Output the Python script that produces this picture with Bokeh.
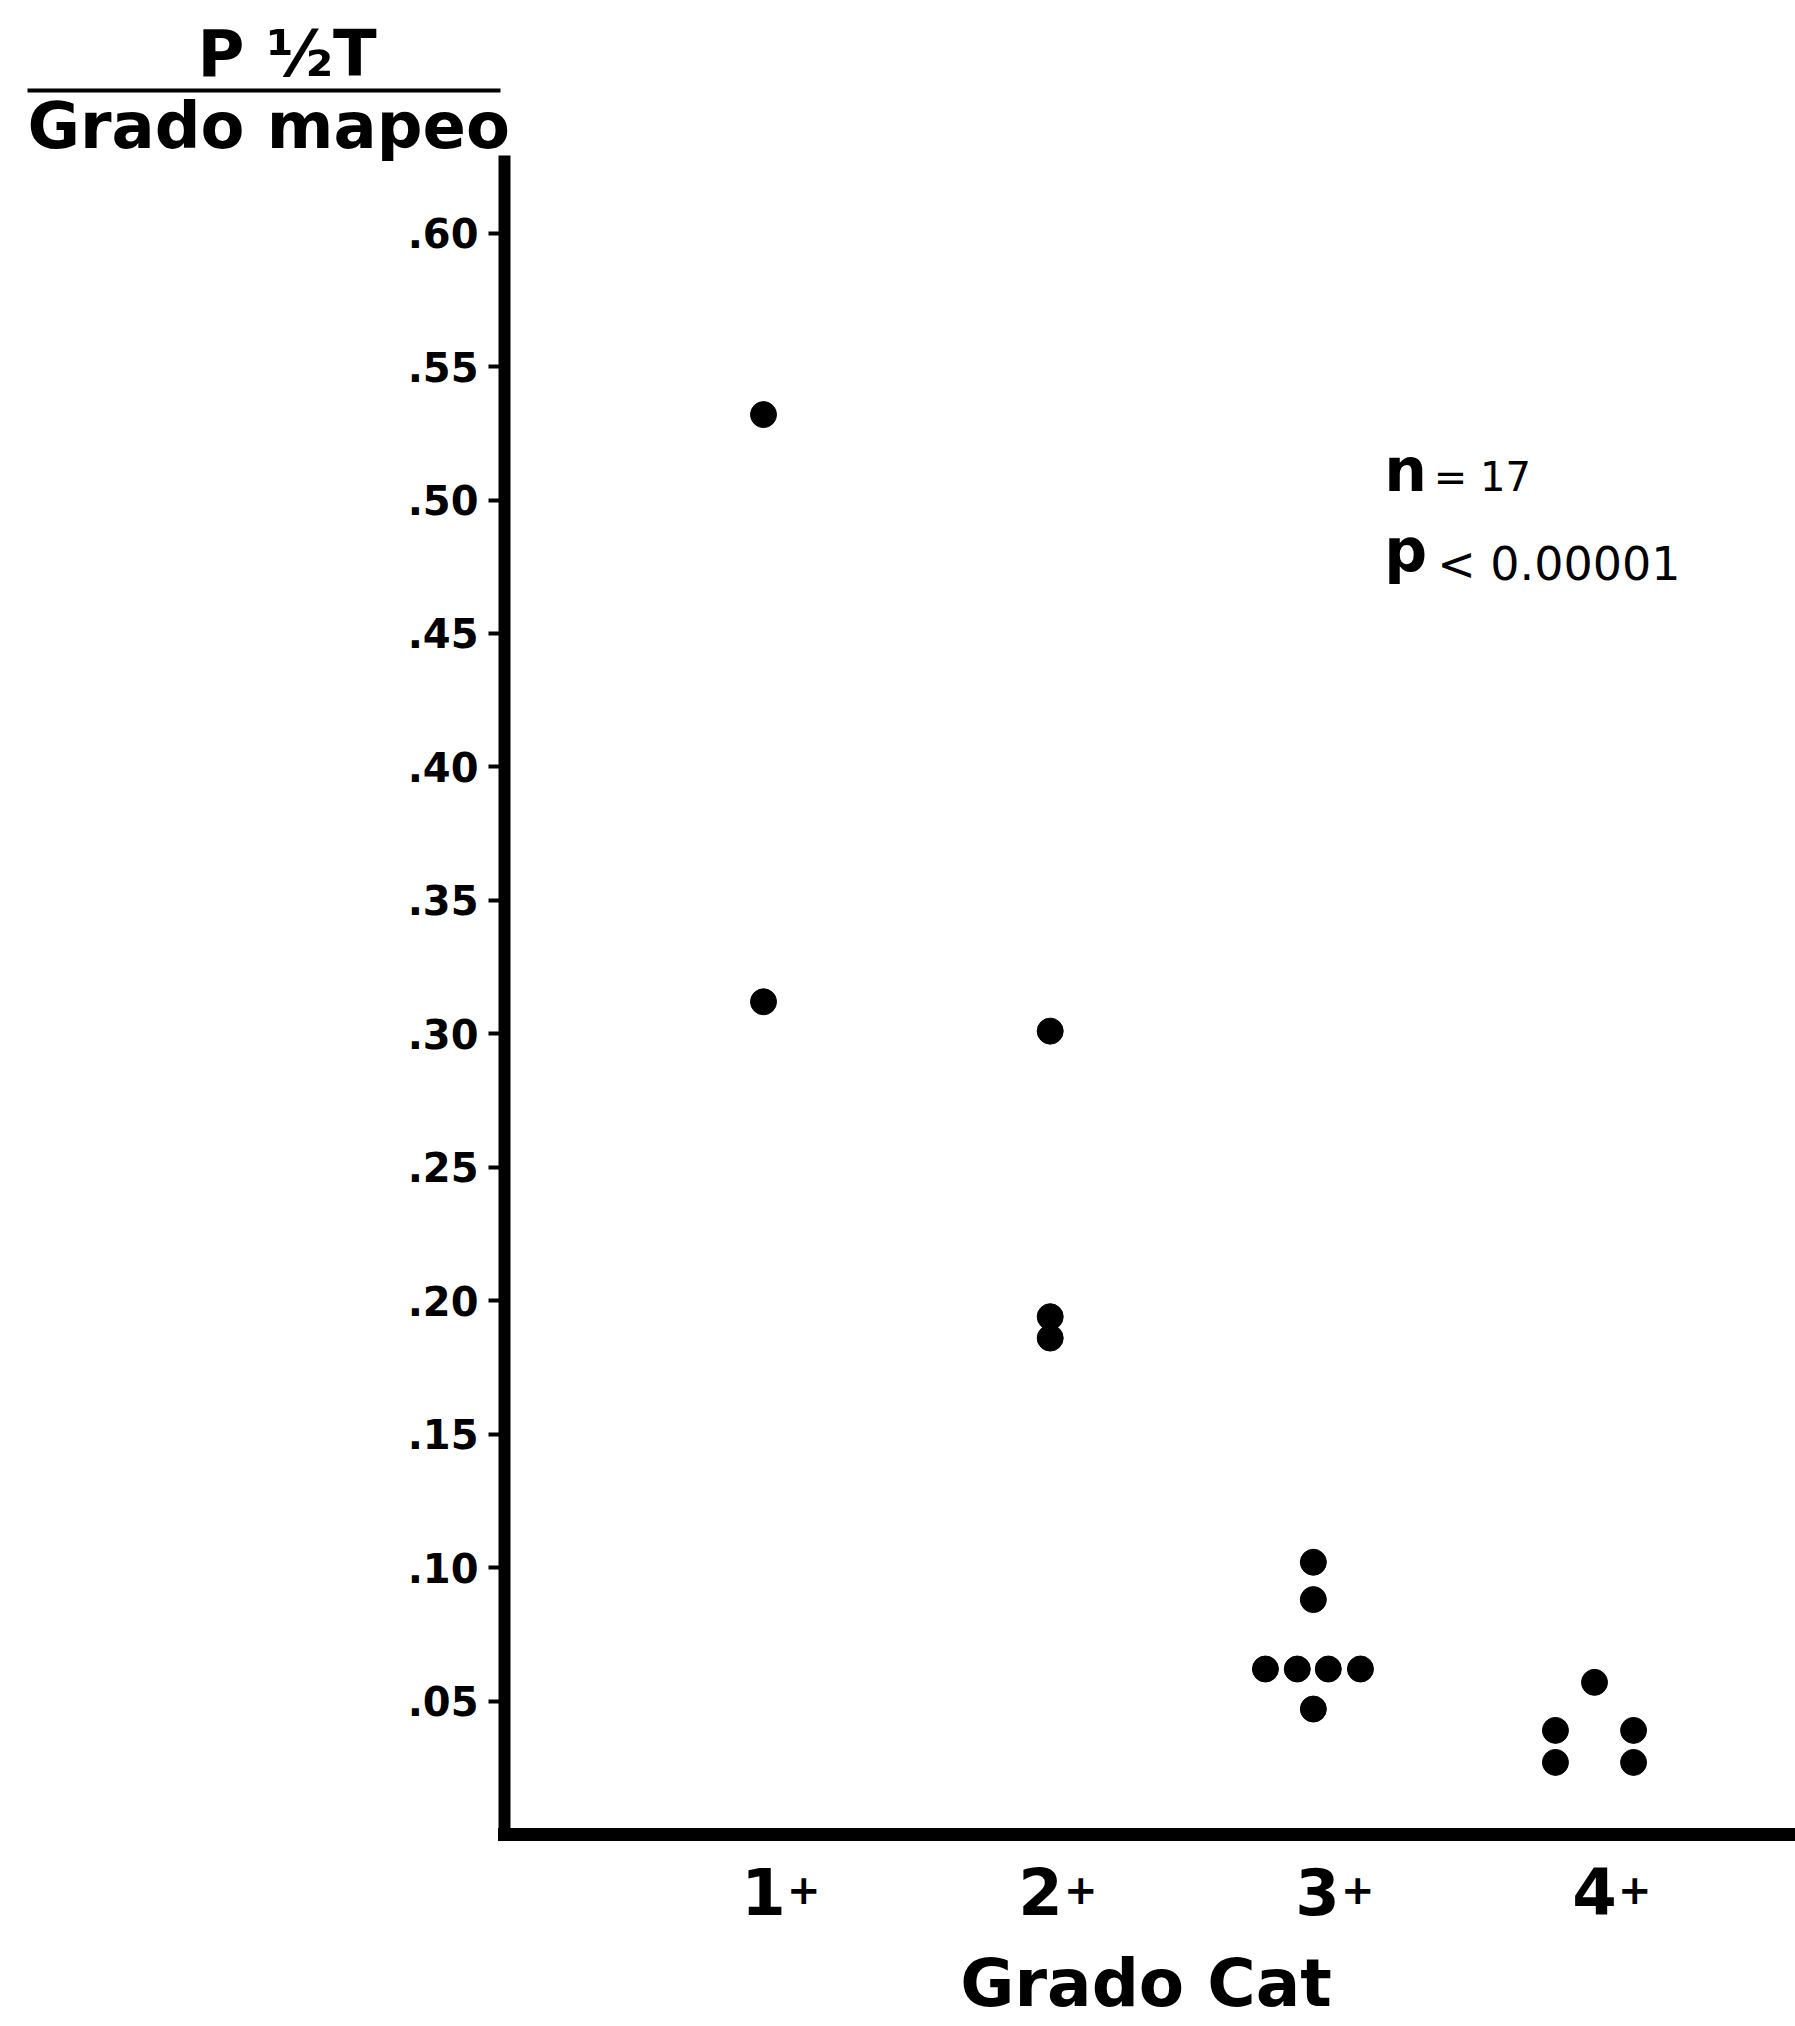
from bokeh.plotting import figure
from bokeh.models import Label, LabelSet, ColumnDataSource, FixedTicker, Arrow, Range1d
from bokeh.core.properties import value
from bokeh.embed import file_html
from bokeh.resources import INLINE

# ---------------- data ----------------
categories = ["1", "2", "3", "4"]          # x tick labels (digit part)
category_pos = [1, 2, 3, 4]
tick_suffix = ["+", "+", "+", "+"]          # small "+" after each digit

group = [1, 1,
         2, 2, 2,
         3, 3, 3, 3, 3, 3, 3,
         4, 4, 4, 4, 4]
p_half_t = [0.532, 0.312,
            0.301, 0.194, 0.186,
            0.102, 0.088, 0.062, 0.062, 0.062, 0.062, 0.047,
            0.057, 0.039, 0.027, 0.039, 0.027]
x_jitter = [0.0, 0.0,
            0.035, 0.035, 0.035,
            -0.015, -0.015, -0.188, -0.073, 0.039, 0.155, -0.015,
            0.0, -0.141, -0.141, 0.141, 0.141]

y_ticks = [0.05, 0.10, 0.15, 0.20, 0.25, 0.30, 0.35, 0.40, 0.45, 0.50, 0.55, 0.60]
y_tick_labels = [".05", ".10", ".15", ".20", ".25", ".30", ".35", ".40", ".45", ".50", ".55", ".60"]
y_axis_top = 0.627

y_title_top = "P \u00bdT"
y_title_bottom = "Grado mapeo"
x_title = "Grado Cat"
n_text = "= 17"
p_text = "< 0.00001"

FONT = "DejaVu Sans"

# ---------------- figure ----------------
# the plotting frame covers the whole canvas; the axes are pinned inside it
X0, X1 = -1.7545, 4.7256
Y0, Y1 = -0.07194, 0.68715
AXIS_X = 0.065

p = figure(width=1795, height=2026,
           x_range=Range1d(X0, X1), y_range=Range1d(Y0, Y1),
           output_backend="svg", toolbar_location=None, min_border=0)
p.background_fill_color = "white"
p.border_fill_color = "white"
p.outline_line_color = None
p.xgrid.visible = False
p.ygrid.visible = False

# y axis
ya = p.yaxis[0]
ya.fixed_location = AXIS_X
ya.bounds = (0, y_axis_top)
ya.ticker = FixedTicker(ticks=y_ticks)
ya.major_label_overrides = dict(zip(y_ticks, y_tick_labels))
ya.axis_line_width = 12
ya.axis_line_color = "black"
ya.axis_line_cap = "square"
ya.major_tick_line_width = 4
ya.major_tick_line_color = "black"
ya.major_tick_out = 16
ya.major_tick_in = 0
ya.minor_tick_line_color = None
ya.major_label_text_font = FONT
ya.major_label_text_font_style = "bold"
ya.major_label_text_font_size = "40px"
ya.major_label_text_color = "black"
ya.major_label_standoff = 10

# x axis
xa = p.xaxis[0]
xa.fixed_location = 0
xa.bounds = (AXIS_X, X1)
xa.ticker = FixedTicker(ticks=category_pos)
xa.major_label_overrides = dict(zip(category_pos, categories))
xa.axis_line_width = 13
xa.axis_line_color = "black"
xa.axis_line_cap = "square"
xa.major_tick_line_color = None
xa.major_tick_out = 0
xa.major_tick_in = 0
xa.minor_tick_line_color = None
xa.major_label_text_font = FONT
xa.major_label_text_font_style = "bold"
xa.major_label_text_font_size = "64px"
xa.major_label_text_color = "black"
xa.major_label_standoff = 34

# small "+" next to each category digit
plus_src = ColumnDataSource(dict(x=[c + 0.145 for c in category_pos],
                                 y=[-0.0205] * len(category_pos),
                                 text=tick_suffix))
p.add_layout(LabelSet(x="x", y="y", text="text", source=plus_src,
                      text_font=value(FONT), text_font_style="bold",
                      text_font_size="40px", text_color="black",
                      text_align="center", text_baseline="middle"))

# points
xs = [g + j for g, j in zip(group, x_jitter)]
src = ColumnDataSource(dict(x=xs, y=p_half_t))
p.scatter(x="x", y="y", source=src, size=26, marker="circle",
          fill_color="black", line_color="black")

# y title (fraction) top left
p.add_layout(Label(x=-1.043, y=0.6671, text=y_title_top, text_font=FONT,
                   text_font_style="bold", text_font_size="64px",
                   text_color="black", text_align="left", text_baseline="alphabetic"))
p.add_layout(Arrow(end=None, x_start=-1.657, y_start=0.6534, x_end=0.0505, y_end=0.6534,
                   line_width=4, line_color="black"))
p.add_layout(Label(x=-1.657, y=0.6402, text=y_title_bottom, text_font=FONT,
                   text_font_style="bold", text_font_size="64px",
                   text_color="black", text_align="left", text_baseline="alphabetic"))

# x title
p.add_layout(Label(x=2.381, y=-0.0560, text=x_title, text_font=FONT,
                   text_font_style="bold", text_font_size="66px",
                   text_color="black", text_align="center", text_baseline="alphabetic"))

# statistics annotation
p.add_layout(Label(x=3.241, y=0.5111, text="n", text_font=FONT,
                   text_font_style="bold", text_font_size="60px",
                   text_color="black", text_align="left", text_baseline="alphabetic"))
p.add_layout(Label(x=3.420, y=0.5088, text=n_text, text_font=FONT,
                   text_font_size="40px",
                   text_color="black", text_align="left", text_baseline="alphabetic"))
p.add_layout(Label(x=3.241, y=0.4811, text="p", text_font=FONT,
                   text_font_style="bold", text_font_size="60px",
                   text_color="black", text_align="left", text_baseline="alphabetic"))
p.add_layout(Label(x=3.432, y=0.4762, text=p_text, text_font=FONT,
                   text_font_size="46px",
                   text_color="black", text_align="left", text_baseline="alphabetic"))

open("out.html", "w").write(file_html(p, INLINE))
